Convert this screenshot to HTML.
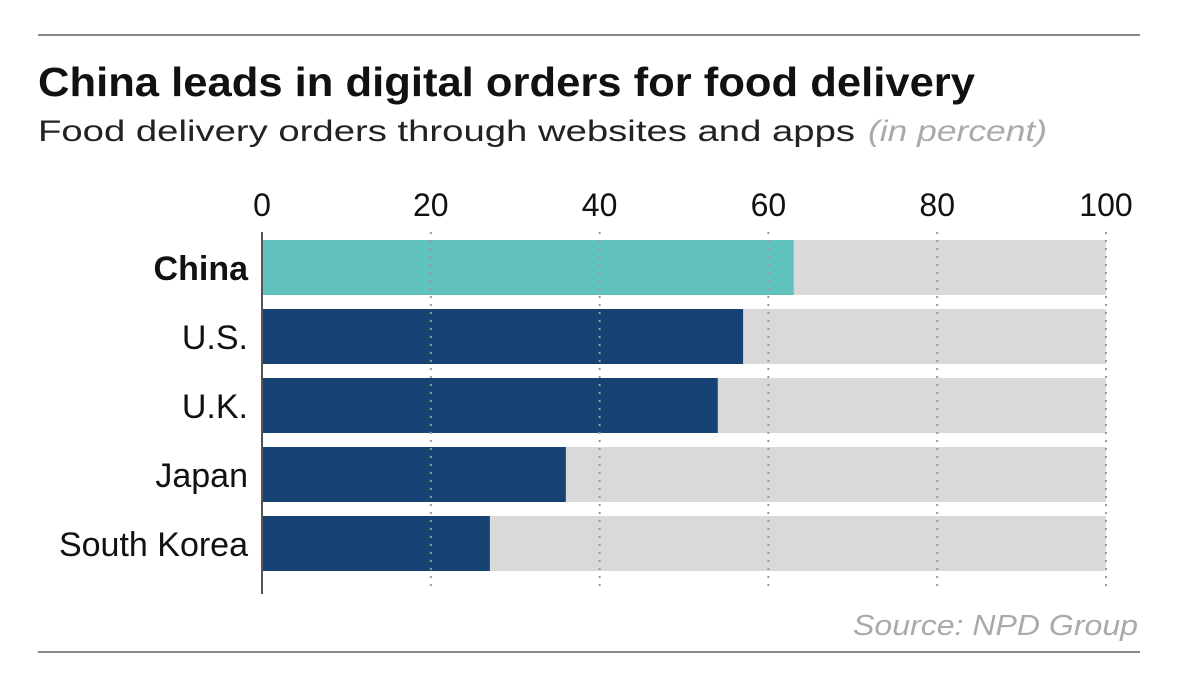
<!DOCTYPE html>
<html><head><meta charset="utf-8"><style>
body{margin:0;background:#fff;width:1177px;height:682px;overflow:hidden;font-family:"Liberation Sans",sans-serif;}
</style></head><body>
<svg width="1177" height="682">
<line x1="38" y1="35" x2="1140" y2="35" stroke="#888" stroke-width="2"/>
<text x="38" y="96" font-size="41" font-weight="bold" fill="#111" textLength="937" lengthAdjust="spacingAndGlyphs">China leads in digital orders for food delivery</text>
<text x="38" y="141" font-size="30" fill="#222" textLength="817" lengthAdjust="spacingAndGlyphs">Food delivery orders through websites and apps</text>
<text x="868" y="141" font-size="30" font-style="italic" fill="#aaa" textLength="179" lengthAdjust="spacingAndGlyphs">(in percent)</text>
<g id="plot"></g>
<text x="1138" y="635" font-size="29" font-style="italic" fill="#aaa" text-anchor="end" textLength="285" lengthAdjust="spacingAndGlyphs">Source: NPD Group</text>
<line x1="38" y1="652" x2="1140" y2="652" stroke="#888" stroke-width="2"/>
</svg>
<script>
const categories=["China","U.S.","U.K.","Japan","South Korea"];
const values=[63,57,54,36,27];
const ticks=[0,20,40,60,80,100];
const ns="http://www.w3.org/2000/svg";
const g=document.getElementById("plot");
const x=v=>262+v*8.44;
const y=i=>240+i*69;
function mk(t,a){const e=document.createElementNS(ns,t);for(const k in a)e.setAttribute(k,a[k]);g.appendChild(e);return e;}
categories.forEach((c,i)=>{
  const bg=mk("rect",{x:x(0),y:y(i),width:x(100)-x(0),height:55,fill:"#d9d9d9"});
  
  
  const b=mk("rect",{x:x(0),y:y(i),width:x(values[i])-x(0),height:55,fill:i===0?"#62c2bd":"#174274"});
  
  
  const t=mk("text",{x:248,y:y(i)+40,"font-size":34,"text-anchor":"end",fill:"#111","font-weight":i===0?"bold":"normal"});
  t.textContent=c;
  
  
});
ticks.forEach(v=>{
  if(v>0){const l=mk("line",{x1:x(v),y1:232,x2:x(v),y2:592,stroke:"#999","stroke-width":2,"stroke-dasharray":"2,6"});
  
  }
  const t=mk("text",{x:x(v),y:216,"font-size":32,"text-anchor":"middle",fill:"#111"});
  t.textContent=v;
  
  
});
const ax=mk("line",{x1:262,y1:232,x2:262,y2:594,stroke:"#555","stroke-width":2});


</script>
</body></html>
